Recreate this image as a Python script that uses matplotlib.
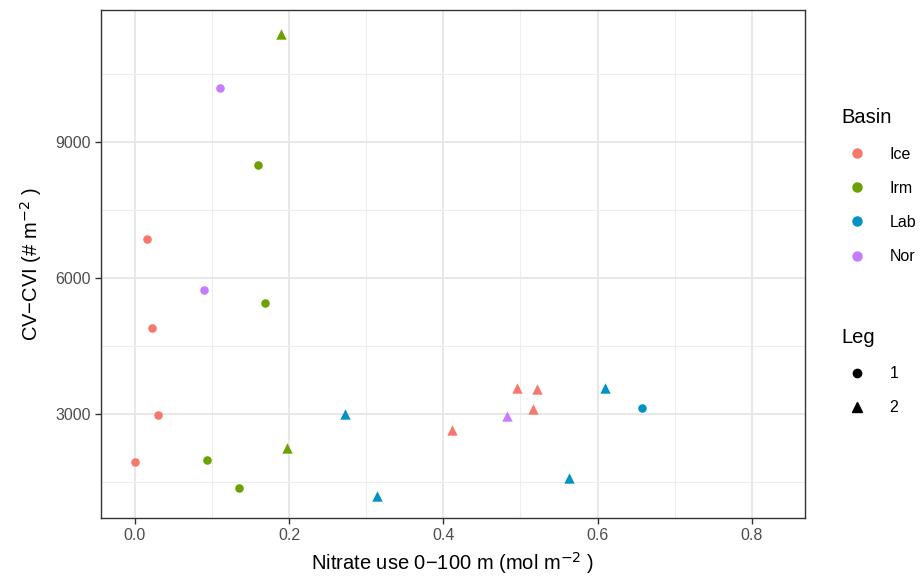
import numpy as np
import matplotlib
matplotlib.use('Agg')
import matplotlib.pyplot as plt
from matplotlib.lines import Line2D

plt.rcParams['font.family'] = ['Liberation Sans', 'DejaVu Sans']

basins = ['Ice', 'Irm', 'Lab', 'Nor']
colors = {'Ice': '#F8766D', 'Irm': '#6BA100', 'Lab': '#0093C4', 'Nor': '#C77CFF'}

# basin, leg, nitrate use, CV-CVI
basin = ['Ice', 'Ice', 'Ice', 'Ice', 'Ice', 'Ice', 'Ice', 'Ice',
         'Irm', 'Irm', 'Irm', 'Irm', 'Irm', 'Irm',
         'Lab', 'Lab', 'Lab', 'Lab', 'Lab',
         'Nor', 'Nor', 'Nor']
leg = [1, 1, 1, 1, 2, 2, 2, 2,
       1, 1, 1, 1, 2, 2,
       1, 2, 2, 2, 2,
       1, 1, 2]
nitrate = [0.0, 0.015, 0.0225, 0.030, 0.411, 0.496, 0.521, 0.516,
           0.160, 0.169, 0.093, 0.1355, 0.190, 0.197,
           0.657, 0.272, 0.314, 0.6095, 0.5627,
           0.110, 0.0896, 0.482]
cvci = [1950, 6860, 4910, 2990, 2650, 3570, 3560, 3120,
        8490, 5450, 1990, 1370, 11400, 2260,
        3150, 3010, 1200, 3590, 1600,
        10190, 5740, 2960]

fig = plt.figure(figsize=(9.21, 5.81), dpi=100)
ax = fig.add_axes([0.1097, 0.1084, 0.7643, 0.8744])

for b, l, x, y in zip(basin, leg, nitrate, cvci):
    if l == 1:
        ax.scatter(x, y, color=colors[b], marker='o', s=38, linewidths=0, zorder=3)
    else:
        ax.scatter(x, y, color=colors[b], marker='^', s=56, linewidths=0, zorder=3)

ax.set_xlim(-0.044, 0.869)
ax.set_ylim(712, 11919)
ax.set_xticks([0.0, 0.2, 0.4, 0.6, 0.8])
ax.set_xticklabels(['0.0', '0.2', '0.4', '0.6', '0.8'])
ax.set_yticks([3000, 6000, 9000])
ax.set_xticks([0.1, 0.3, 0.5, 0.7], minor=True)
ax.set_yticks([1500, 4500, 7500, 10500], minor=True)
ax.grid(which='major', color='#E8E8E8', linewidth=1.4, zorder=0)
ax.grid(which='minor', color='#EDEDED', linewidth=0.8, zorder=0)
ax.set_axisbelow(True)
ax.tick_params(which='minor', length=0)
ax.tick_params(which='major', length=4, width=1, color='#333333', labelsize=11.5, labelcolor='#4D4D4D')
for s in ax.spines.values():
    s.set_color('#333333')
    s.set_linewidth(1)

ax.set_xlabel('Nitrate use 0\u2212100 m (mol m$^{-2}$ )', fontsize=14.5, labelpad=5)
ax.set_ylabel('CV\u2212CVI (# m$^{-2}$ )', fontsize=14.5, labelpad=8)

h1 = [Line2D([], [], marker='o', linestyle='', color=colors[b], markersize=6.5) for b in basins]
lg1 = fig.legend(h1, basins, title='Basin', loc='upper left', bbox_to_anchor=(0.898, 0.838),
                 frameon=False, fontsize=11.5, title_fontsize=14.5, labelspacing=1.2,
                 handletextpad=1.0, alignment='left')
h2 = [Line2D([], [], marker='o', linestyle='', color='black', markersize=6),
      Line2D([], [], marker='^', linestyle='', color='black', markersize=7)]
lg2 = fig.legend(h2, ['1', '2'], title='Leg', loc='upper left', bbox_to_anchor=(0.898, 0.46),
                 frameon=False, fontsize=11.5, title_fontsize=14.5, labelspacing=1.2,
                 handletextpad=1.0, alignment='left')

fig.savefig('out.png', dpi=100)
